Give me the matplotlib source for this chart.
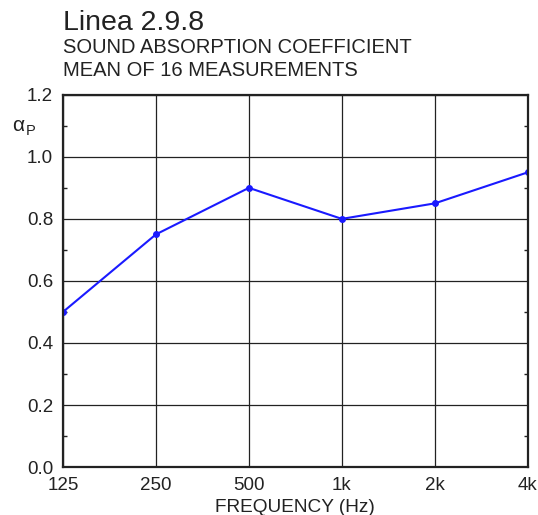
import numpy as np
import matplotlib
matplotlib.use("Agg")
import matplotlib.pyplot as plt
from matplotlib.ticker import MultipleLocator

plt.rcParams["font.family"] = ["Liberation Sans", "DejaVu Sans"]

# --- data ---------------------------------------------------------------
freq_labels = ["125", "250", "500", "1k", "2k", "4k"]
alpha_p = [0.50, 0.75, 0.90, 0.80, 0.85, 0.95]

x = np.arange(len(freq_labels))

fig = plt.figure(figsize=(5.38, 5.15), dpi=100, facecolor="white")
ax = fig.add_axes([0.117, 0.093, 0.864, 0.723])

ax.plot(x, alpha_p, color="#1a1aff", linewidth=1.5, marker="o", markersize=4)

ax.set_xlim(0, len(freq_labels) - 1)
ax.set_ylim(0, 1.2)
ax.set_xticks(x)
ax.set_xticklabels(freq_labels)
ax.set_yticks(np.arange(0, 1.21, 0.2))
ax.set_yticklabels([f"{v:.1f}" for v in np.arange(0, 1.21, 0.2)])
ax.yaxis.set_minor_locator(MultipleLocator(0.1))

ax.grid(True, color="#222222", linewidth=0.9)
ax.tick_params(axis="both", which="both", direction="in", labelsize=13.5,
               colors="#222222", labelcolor="#222222")
ax.tick_params(axis="x", length=0, pad=7)
ax.tick_params(axis="y", which="major", length=0, pad=7)
ax.tick_params(axis="y", which="minor", length=3, width=1, right=True)
for s in ax.spines.values():
    s.set_linewidth(1.6)
    s.set_color("#222222")

ax.set_xlabel("FREQUENCY (Hz)", fontsize=13.7, color="#222222", labelpad=4)

fig.text(0.022, 0.757, "α", fontsize=15, color="#222222", ha="left", va="center")
fig.text(0.048, 0.745, "P", fontsize=10.5, color="#222222", ha="left", va="center")

fig.text(0.117, 0.941, "Linea 2.9.8", fontsize=20.5, color="#222222", ha="left", va="baseline")
fig.text(0.117, 0.898, "SOUND ABSORPTION COEFFICIENT", fontsize=14.5, color="#222222",
         ha="left", va="baseline")
fig.text(0.117, 0.853, "MEAN OF 16 MEASUREMENTS", fontsize=14.5, color="#222222",
         ha="left", va="baseline")

plt.savefig("out.png", dpi=100, facecolor="white")
